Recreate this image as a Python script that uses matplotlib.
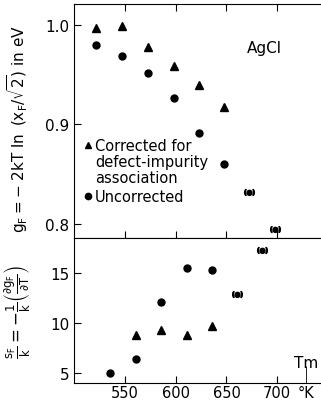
import matplotlib
matplotlib.use("Agg")
import matplotlib.pyplot as plt

# top panel: g_F vs T
t_top = [522, 547, 573, 598, 623, 648]
g_corr = [0.997, 0.999, 0.978, 0.959, 0.940, 0.918]
g_unc = [0.980, 0.969, 0.952, 0.927, 0.891, 0.860]
t_top_paren = [672, 698]
g_unc_paren = [0.832, 0.795]

# bottom panel: s_F/k vs T
t_bot_unc = [535, 561, 586, 611, 636]
s_unc = [5.0, 6.4, 12.1, 15.5, 15.3]
t_bot_paren = [660, 685]
s_unc_paren = [12.9, 17.3]
t_bot_corr = [561, 586, 611, 636]
s_corr = [8.8, 9.3, 8.8, 9.75]

tm = 728
xticks = [550, 600, 650, 700]

plt.rcParams['font.family'] = ['DejaVu Sans']
plt.rcParams['mathtext.default'] = 'regular'
fig = plt.figure(figsize=(3.21, 4.02), dpi=100)
ax1 = fig.add_axes([0.2305, 0.4055, 0.7695, 0.5821])
ax2 = fig.add_axes([0.2305, 0.0448, 0.7695, 0.3607])

paren = '$(\u25cf)$'

ax1.plot(t_top, g_corr, '^', color='black', ms=5.5, ls='none')
ax1.plot(t_top, g_unc, 'o', color='black', ms=5, ls='none')
ax1.plot(t_top_paren, g_unc_paren, marker=paren, color='black', ms=7, ls='none')
ax1.set_xlim(500, 743)
ax1.set_ylim(0.786, 1.021)
ax1.set_yticks([0.8, 0.9, 1.0])
ax1.set_yticklabels(['0.8', '0.9', '1.0'])
ax1.set_xticks(xticks)
ax1.tick_params(axis='x', direction='in', top=True, bottom=True, labelbottom=False, length=5)
ax1.tick_params(axis='y', direction='in', length=5, labelsize=11)
ax1.spines['right'].set_visible(False)
ax1.set_ylabel(r'$g_F = -\ 2kT\ \ln\ (x_F/\sqrt{2})\ in\ eV$', fontsize=11)
ax1.text(0.77, 0.816, 'AgCl', transform=ax1.transAxes, ha='center', va='center', fontsize=11)

# hand-drawn style legend
ax1.plot([0.057], [0.397], '^', color='black', ms=4.5, transform=ax1.transAxes)
ax1.text(0.085, 0.397, 'Corrected for', transform=ax1.transAxes, va='center', fontsize=10.5)
ax1.text(0.085, 0.327, 'defect-impurity', transform=ax1.transAxes, va='center', fontsize=10.5)
ax1.text(0.085, 0.257, 'association', transform=ax1.transAxes, va='center', fontsize=10.5)
ax1.plot([0.057], [0.178], 'o', color='black', ms=4.5, transform=ax1.transAxes)
ax1.text(0.085, 0.178, 'Uncorrected', transform=ax1.transAxes, va='center', fontsize=10.5)

ax2.plot(t_bot_unc, s_unc, 'o', color='black', ms=5, ls='none')
ax2.plot(t_bot_corr, s_corr, '^', color='black', ms=5.5, ls='none')
ax2.plot(t_bot_paren, s_unc_paren, marker=paren, color='black', ms=7, ls='none')
ax2.set_xlim(500, 743)
ax2.set_ylim(4.0, 18.54)
ax2.set_yticks([5, 10, 15])
ax2.set_xticks(xticks)
ax2.set_xticks([tm], minor=True)
ax2.set_xticklabels(['\u00b0K'], minor=True)
ax2.tick_params(axis='x', which='major', direction='in', length=5, labelsize=10.5, pad=1.5)
ax2.tick_params(axis='x', which='minor', direction='in', length=12, labelsize=10.5, pad=1.5)
ax2.tick_params(axis='y', direction='in', length=5, labelsize=11)
ax2.spines['right'].set_visible(False)
ax2.set_ylabel(r'$\frac{s_F}{k} = -\frac{1}{k}\left(\frac{\partial g_F}{\partial T}\right)$',
               fontsize=12)
ax2.annotate('Tm', xy=(tm, 0.14), xycoords=('data', 'axes fraction'),
             ha='center', va='center', fontsize=11)

for ax in (ax1, ax2):
    for s in ax.spines.values():
        s.set_linewidth(0.8)
ax1.yaxis.set_label_coords(-0.18, 0.47)
ax2.yaxis.set_label_coords(-0.165, 0.50)

fig.savefig('out.png', dpi=100)
